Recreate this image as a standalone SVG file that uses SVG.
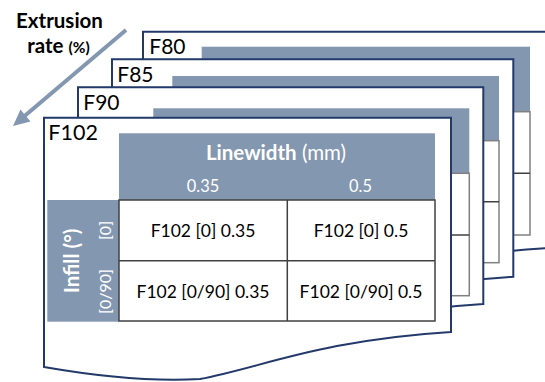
<svg xmlns="http://www.w3.org/2000/svg" width="545" height="382" viewBox="0 0 545 382">
<style>
.sheet{fill:#fff;stroke:#22396a;stroke-width:2}
.band{fill:#8497b0}
.bt{fill:#fff;stroke:#808080;stroke-width:1.5}
.bl{stroke:#404040;stroke-width:1.5;fill:none}
.lbl{font-family:Lato,"Open Sans",sans-serif;font-size:21px;fill:#000}
.cell{font-family:Lato,"Open Sans",sans-serif;font-size:17.5px;fill:#000;text-anchor:middle}
.hd{font-family:Lato,"Open Sans",sans-serif;fill:#fff;text-anchor:middle}
.tl{stroke:#404040;stroke-width:1.5;fill:none}
</style>
<g id="axis-label">
<text x="59.5" y="28.3" style="font-family:Lato,'Open Sans',sans-serif;font-weight:bold;font-size:20.5px;text-anchor:middle;fill:#000">Extrusion</text>
<text x="58.5" y="53.3" style="font-family:Lato,'Open Sans',sans-serif;font-weight:bold;font-size:20.5px;text-anchor:middle;fill:#000">rate <tspan style="font-size:15.5px">(%)</tspan></text>
</g>
<g id="connectors">
<line x1="126" y1="30" x2="24" y2="116.6" stroke="#8497b0" stroke-width="4"/>
<polygon points="13,126 30.5,121.5 20.5,109.5" fill="#8497b0"/>
</g>
<g id="sheet-F80">
<path class="sheet" d="M143,31.7 H548 V248 C417,256 357,284 297,295 C247,298 187,291 143,283 Z"/>
<rect class="band" x="201.7" y="46.7" width="328.3" height="65"/>
<rect class="bt" x="201.7" y="111.7" width="328.3" height="123.3"/>
<line class="bl" x1="201.7" y1="173.3" x2="530" y2="173.3"/>
<text class="lbl" x="149.3" y="54.3">F80</text>
</g>
<g id="sheet-F85">
<path class="sheet" d="M112,59.3 H513.3 V276.7 C382.3,284.7 322.3,312.7 262.3,323.7 C212.3,326.7 152.3,319.7 112,311.7 Z"/>
<rect class="band" x="172.3" y="76" width="326.7" height="64.7"/>
<rect class="bt" x="172.3" y="140.7" width="326.7" height="122"/>
<line class="bl" x1="172.3" y1="201.7" x2="499" y2="201.7"/>
<text class="lbl" x="117.3" y="82.3">F85</text>
</g>
<g id="sheet-F90">
<path class="sheet" d="M78,87.3 H483.3 V304 C352.3,312 292.3,340 232.3,351 C182.3,354 122.3,347 78,339 Z"/>
<rect class="band" x="153.3" y="108.3" width="316" height="65"/>
<rect class="bt" x="153.3" y="173.3" width="316" height="122.4"/>
<line class="bl" x1="153.3" y1="235" x2="469.3" y2="235"/>
<text class="lbl" x="83.3" y="110">F90</text>
</g>
<g id="sheet-F102">
<path class="sheet" d="M44,117.7 H451 V332 C320,340 260,368 200,379 C150,382 90,375 44,367 Z"/>
<rect class="band" x="119" y="133.3" width="316" height="66.7"/>
<rect class="band" x="47.3" y="200" width="71.7" height="121.7"/>
<rect x="119" y="200" width="316" height="121" fill="#fff" class="tl"/>
<line class="tl" x1="287.3" y1="200" x2="287.3" y2="321" stroke="#000"/>
<line class="tl" x1="119" y1="260.7" x2="435" y2="260.7"/>
<text class="lbl" x="48.3" y="140" style="font-size:21.5px">F102</text>
<text class="hd" x="276" y="159.5" style="font-size:20.5px"><tspan font-weight="bold">Linewidth</tspan> (mm)</text>
<text class="hd" x="203" y="191.7" style="font-size:16.4px">0.35</text>
<text class="hd" x="360.5" y="191.7" style="font-size:16.4px">0.5</text>
<text class="hd" transform="translate(78.5,261) rotate(-90)" style="font-size:20.5px;font-weight:bold">Infill (°)</text>
<text class="hd" transform="translate(110.5,230.5) rotate(-90)" style="font-size:16px">[0]</text>
<text class="hd" transform="translate(110.5,291.5) rotate(-90)" style="font-size:16px">[0/90]</text>
<text class="cell" x="203" y="237.3">F102 [0] 0.35</text>
<text class="cell" x="361" y="237.3">F102 [0] 0.5</text>
<text class="cell" x="203" y="298.3">F102 [0/90] 0.35</text>
<text class="cell" x="361" y="298.3">F102 [0/90] 0.5</text>
</g>
</svg>
